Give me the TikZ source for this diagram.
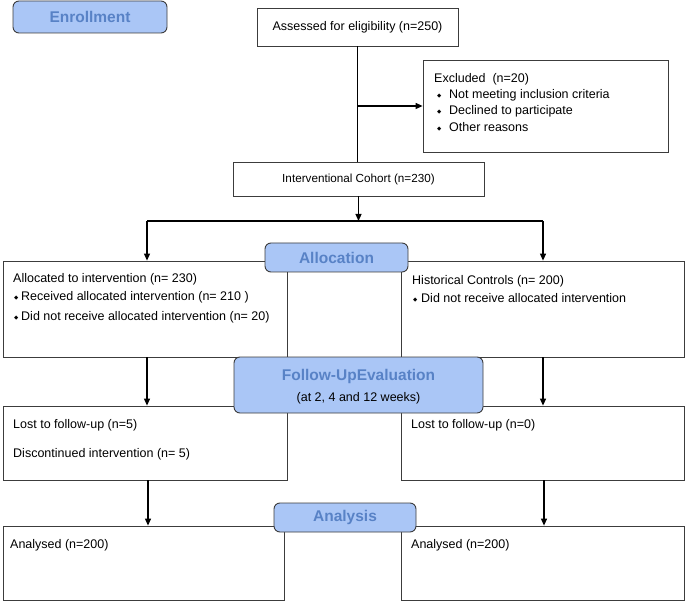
\documentclass[tikz,border=0pt]{standalone}
\usepackage{fontspec}
\setmainfont{Liberation Sans}
\newfontfamily\dejavu{DejaVu Sans}
\usetikzlibrary{arrows.meta}
\definecolor{phasefill}{RGB}{170,198,246}
\definecolor{phasetext}{RGB}{88,130,198}
\definecolor{boxline}{RGB}{60,60,60}
\newcommand{\dia}{{\dejavu\fontsize{5.5}{6}\selectfont\raisebox{0.6pt}{◆}}}
\begin{document}
\begin{tikzpicture}[x=1pt,y=-1pt,
  box/.style={draw=boxline, line width=0.8pt, fill=white, rectangle, inner sep=0pt},
  phase/.style={draw=boxline, line width=0.9pt, fill=phasefill, rectangle, rounded corners=6pt, inner sep=0pt,
    font=\fontsize{15.5}{18}\selectfont\bfseries, text=phasetext},
  txt/.style={anchor=base west, inner sep=0pt, font=\fontsize{12.5}{15}\selectfont},
  conn/.style={line width=1.1pt, black},
  arr/.style={conn, -{Triangle[length=7pt,width=6pt]}}]
\useasboundingbox (0,0) rectangle (685,601);

% plain boxes
\node[box, minimum width=201pt, minimum height=38pt, font=\fontsize{12.5}{15}\selectfont] (assess) at (357.5,27) {Assessed for eligibility (n=250)};
\node[box, minimum width=245pt, minimum height=92pt] (excl) at (545.5,106) {};
\node[box, minimum width=251pt, minimum height=34pt, font=\fontsize{11.7}{14}\selectfont] (cohort) at (358.5,179) {Interventional Cohort (n=230)};
\node[box, minimum width=284pt, minimum height=96pt] (allocL) at (145,309) {};
\node[box, minimum width=283pt, minimum height=96pt] (allocR) at (542.5,309) {};
\node[box, minimum width=284pt, minimum height=74pt] (fuL) at (145,443) {};
\node[box, minimum width=283pt, minimum height=74pt] (fuR) at (542.5,443) {};
\node[box, minimum width=281pt, minimum height=74pt] (anL) at (143.5,563) {};
\node[box, minimum width=283pt, minimum height=74pt] (anR) at (542.5,563) {};

% phase labels
\node[phase, minimum width=154pt, minimum height=32pt] (enroll) at (90,17) {Enrollment};
\node[phase, minimum width=143pt, minimum height=29pt] (alloc) at (336.5,257.5) {Allocation};
\node[phase, minimum width=249pt, minimum height=56pt] (fu) at (358.5,385) {};
\node[phase, minimum width=142pt, minimum height=29pt] (analysis) at (345,517.5) {Analysis};

% texts
\node[txt] (exT) at (434,82.5) {Excluded\ \ (n=20)};
\node[txt] (exB1) at (437,98.5) {\dia};
\node[txt] (exT1) at (449,98.5) {Not meeting inclusion criteria};
\node[txt] (exB2) at (437,114.5) {\dia};
\node[txt] (exT2) at (449,114.5) {Declined to participate};
\node[txt] (exB3) at (437,131.5) {\dia};
\node[txt] (exT3) at (449,131.5) {Other reasons};

\node[txt] (alT) at (13,282.5) {Allocated to intervention (n= 230)};
\node[txt] (alB1) at (14,300.5) {\dia};
\node[txt] (alT1) at (21,300.5) {Received allocated intervention (n= 210 )};
\node[txt] (alB2) at (14,320.5) {\dia};
\node[txt] (alT2) at (21,320.5) {Did not receive allocated intervention (n= 20)};

\node[txt] (arT) at (412,284.5) {Historical Controls (n= 200)};
\node[txt] (arB1) at (413,302.5) {\dia};
\node[txt] (arT1) at (421,302.5) {Did not receive allocated intervention};

\node[anchor=base, inner sep=0pt, font=\fontsize{15.5}{18}\selectfont\bfseries, text=phasetext] (fuT) at (358.5,380.5) {Follow-UpEvaluation};
\node[anchor=base, inner sep=0pt, font=\fontsize{12.5}{15}\selectfont] (fuS) at (358.5,401.5) {(at 2, 4 and 12 weeks)};

\node[txt] (flT1) at (13,428.5) {Lost to follow-up (n=5)};
\node[txt] (flT2) at (13,457.5) {Discontinued intervention (n= 5)};
\node[txt] (frT1) at (411,428.5) {Lost to follow-up (n=0)};

\node[txt] (anLT) at (10,548.5) {Analysed (n=200)};
\node[txt] (anRT) at (411,548.5) {Analysed (n=200)};

% connectors
\coordinate (branch) at (assess.south |- excl.west);
\draw[conn] (assess.south) -- (assess.south |- cohort.north);
\draw[arr] (branch) -- (excl.west);
\coordinate (split) at (cohort.south |- 0,221);
\draw[arr] (cohort.south) -- (split);
\coordinate (sL) at (147,221);
\coordinate (sR) at (543,221);
\draw[conn] (sL) -- (sR);
\draw[arr] (sL) -- (sL |- allocL.north);
\draw[arr] (sR) -- (sR |- allocR.north);
\draw[arr] (sL |- allocL.south) -- (sL |- fuL.north);
\draw[arr] (sR |- allocR.south) -- (sR |- fuR.north);
\coordinate (cL) at (148,0);
\coordinate (cR) at (544,0);
\draw[arr] (cL |- fuL.south) -- (cL |- anL.north);
\draw[arr] (cR |- fuR.south) -- (cR |- anR.north);
\end{tikzpicture}
\end{document}
